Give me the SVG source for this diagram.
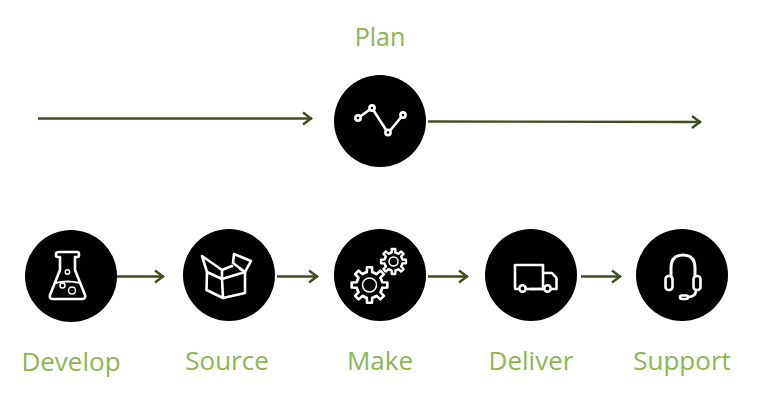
<svg xmlns="http://www.w3.org/2000/svg" width="770" height="411" viewBox="0 0 770 411">
<style>
.disc{fill:#000}
.ic{fill:none;stroke:#fff;stroke-width:2.600;stroke-linejoin:round;stroke-linecap:round}
.lb{font-family:"Open Sans","Noto Sans",sans-serif;font-size:26px;fill:#8db552;text-anchor:middle}
.cn{fill:none;stroke:#3f4d22;stroke-width:2.400}
</style>
<defs>
<marker id="ah" markerUnits="userSpaceOnUse" markerWidth="14" markerHeight="16" refX="13" refY="8" orient="auto"><path d="M4 2L12 8L4 14" fill="none" stroke="#3f4d22" stroke-width="2.400"/></marker>
<path id="t" d="M-4.97 -12.01A13 13 0 0 1 -2.7 -12.72L-2.5 -17.82L2.5 -17.82L2.7 -12.72A13 13 0 0 1 4.97 -12.01"/>
<g id="gear"><use href="#t"/><use href="#t" transform="rotate(45)"/><use href="#t" transform="rotate(90)"/><use href="#t" transform="rotate(135)"/><use href="#t" transform="rotate(180)"/><use href="#t" transform="rotate(225)"/><use href="#t" transform="rotate(270)"/><use href="#t" transform="rotate(315)"/></g>
</defs>
<rect width="770" height="411" fill="#fff"/>
<g id="connectors" class="cn">
<path d="M38 118.500H312" marker-end="url(#ah)"/>
<path d="M428 121.500L701 122" marker-end="url(#ah)"/>
<path d="M117 276.500H164" marker-end="url(#ah)"/>
<path d="M277 276.500H318" marker-end="url(#ah)"/>
<path d="M428 276.500H468" marker-end="url(#ah)"/>
<path d="M581 276.500H621" marker-end="url(#ah)"/>
</g>
<g id="plan">
<circle class="disc" cx="380" cy="121" r="46"/>
<path class="ic" d="M358 118L372 108L388 133L403 115"/>
<g fill="#000" stroke="#fff" stroke-width="2.600"><circle cx="358" cy="118" r="2.600"/><circle cx="372" cy="108" r="2.600"/><circle cx="388" cy="132.500" r="2.600"/><circle cx="403" cy="115" r="2.600"/></g>
<text class="lb" x="380" y="46" style="font-size:25px">Plan</text>
</g>
<g id="develop">
<circle class="disc" cx="71" cy="276" r="46"/>
<path class="ic" d="M59 252H77Q79 252 79 254V255.500Q79 257 77 257H75V270L85 295Q86 299 82 299H53Q49 299 50 295L60 270V257H58Q56 257 56 255.500V254Q56 252 59 252Z"/>
<path class="ic" d="M55 283Q67 280 80 283" style="stroke-width:2"/>
<circle class="ic" cx="67.500" cy="272" r="2.200" style="stroke-width:1.500"/>
<circle class="ic" cx="62.500" cy="285.500" r="2.500" style="stroke-width:1.500"/>
<circle class="ic" cx="72" cy="290.500" r="3.500" style="stroke-width:1.500"/>
<text class="lb" x="71" y="371">Develop</text>
</g>
<g id="source">
<circle class="disc" cx="229" cy="275" r="46"/>
<path class="ic" d="M207 272L206.500 290L223 298L245 293V272L222 279ZM222 279L223 298"/>
<path class="ic" d="M207 272L202 256L222 270V279M222 270L232 266"/>
<path class="ic" d="M233 263L234 254L251 261L245 272L240 269M233 263L245 272"/>
<text class="lb" x="227" y="370">Source</text>
</g>
<g id="make">
<circle class="disc" cx="380" cy="275" r="46"/>
<use class="ic" href="#gear" transform="translate(369.500 285)"/>
<circle class="ic" cx="369.500" cy="285" r="7" style="stroke-width:1.500"/>
<use class="ic" href="#gear" transform="translate(393.500 261.500) scale(.7)" style="stroke-width:3.400"/>
<circle class="ic" cx="393.500" cy="261.500" r="4.500" style="stroke-width:1.500"/>
<text class="lb" x="380" y="370">Make</text>
</g>
<g id="deliver">
<circle class="disc" cx="531" cy="275" r="46"/>
<path class="ic" d="M518.500 289H516Q515 289 515 287V265H543V289H526.500M543 273H552L556.500 278V289H551.500M543 289H543.500"/>
<path class="ic" d="M530 289H543.500"/>
<circle class="ic" cx="522.500" cy="288.500" r="3.200"/>
<circle class="ic" cx="547.500" cy="288.500" r="3.200"/>
<text class="lb" x="531" y="370">Deliver</text>
</g>
<g id="support">
<circle class="disc" cx="682" cy="275" r="46"/>
<path class="ic" d="M671 276V268Q671 255 683 255Q695 255 695 268V276" style="stroke-width:3"/>
<rect class="ic" x="665.500" y="276" width="7" height="14" rx="3"/>
<rect class="ic" x="693.500" y="276" width="7" height="14" rx="3"/>
<path class="ic" d="M696 290Q696 297 688 297"/>
<rect class="ic" x="680" y="295.500" width="8" height="3.500" rx="1.700"/>
<text class="lb" x="682" y="370">Support</text>
</g>
</svg>
